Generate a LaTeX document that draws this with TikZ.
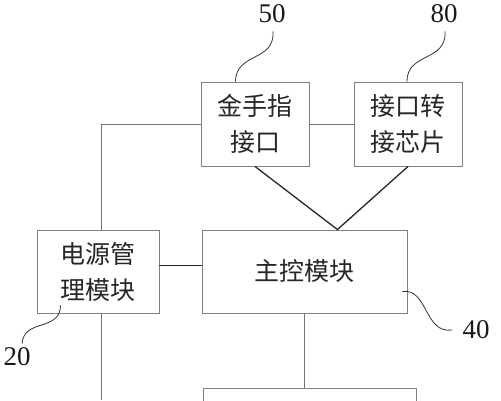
\documentclass[tikz,border=0pt]{standalone}
\usepackage{fontspec}
\setmainfont{Liberation Serif}
\newfontfamily\cjk{Noto Sans CJK SC}
\usetikzlibrary{calc}
\begin{document}
\begin{tikzpicture}[x=1pt,y=-1pt,
  blk/.style={draw=black!50,line width=0.9pt,inner sep=0pt,align=center,
    text=black!85,font=\cjk\fontsize{25}{36}\selectfont},
  tag/.style={inner sep=0pt,text=black!90,font=\fontsize{27}{27}\selectfont},
  wire/.style={draw=black!55,line width=1pt},
  bold/.style={draw=black!85,line width=1.3pt},
  lead/.style={draw=black!80,line width=0.8pt}]
\clip (0,0) rectangle (501,400);
\node[blk,minimum width=108pt,minimum height=84pt] (gold) at (255,124) {金手指\\接口};
\node[blk,minimum width=108pt,minimum height=84pt] (chip) at (408,124) {接口转\\接芯片};
\node[blk,minimum width=122pt,minimum height=83pt] (power) at (98,271.5) {电源管\\理模块};
\node[blk,minimum width=205pt,minimum height=83pt] (main) at (304.5,271.5) {主控模块};
\node[blk,minimum width=213pt,minimum height=80pt] (bottom) at (309.5,428) {};
\node[tag] (n50) at (272,14) {50};
\node[tag] (n80) at (444,14) {80};
\node[tag] (n40) at (476,330) {40};
\node[tag] (n20) at (17,357) {20};
\coordinate (apex) at ($(main.north west)!0.66!(main.north east)$);
\coordinate (pwrend) at (101,400);
\draw[wire] (gold) -- (chip);
\draw[wire] (gold.west) -| ([xshift=3pt]power.north);
\draw[wire] ([xshift=3pt]power.south) -- (pwrend);
\draw[wire] (main.south) -- (main.south |- bottom.north);
\draw[bold] ([yshift=6pt]power.east) -- ([yshift=6pt]main.west);
\draw[bold] (gold.south) -- (apex) -- (chip.south);
\draw[lead] ([xshift=1pt,yshift=-8pt]n50.south) .. controls (275,62) and (236,52) .. ($(gold.north west)!0.32!(gold.north east)$);
\draw[lead] ([xshift=1pt,yshift=-8pt]n80.south) .. controls (447,62) and (407,52) .. ($(chip.north west)!0.49!(chip.north east)$);
\draw[lead] ([xshift=-5pt,yshift=22pt]main.south east) .. controls (428,288) and (424,334) .. ([xshift=-10pt]n40.west);
\draw[lead] ([xshift=24pt,yshift=8pt]power.south west) .. controls (60,332) and (24,318) .. ([xshift=5pt,yshift=4pt]n20.north);
\end{tikzpicture}
\end{document}
